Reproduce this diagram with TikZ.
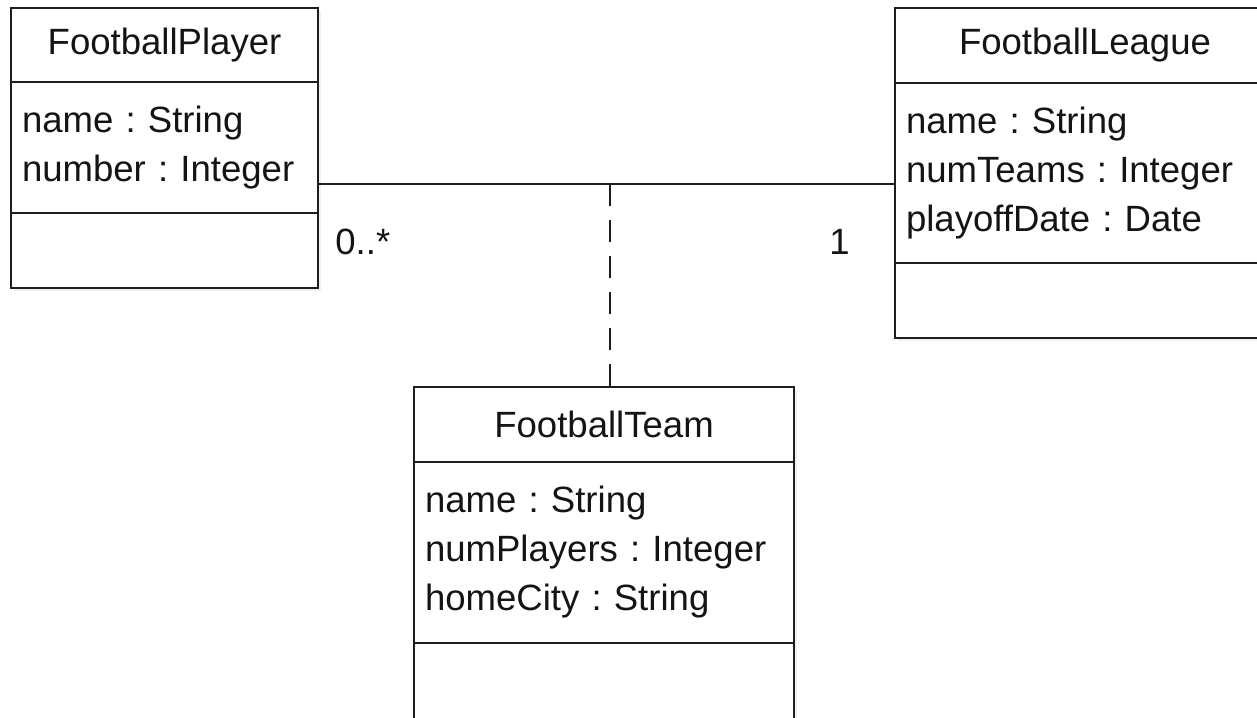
\documentclass[tikz,border=0pt]{standalone}
\usepackage{fontspec}
\setmainfont{Liberation Sans}
\usetikzlibrary{positioning,shadows}
\definecolor{umlLine}{RGB}{30,30,30}
\definecolor{umlText}{RGB}{20,20,20}
\tikzset{
    base/.style={font=\fontsize{20.8}{27.9}\selectfont\frenchspacing, text=umlText},
    section/.style={base, rectangle, draw=umlLine, line width=1.4pt, fill=white,
                    inner xsep=0.22cm, inner ysep=0pt, outer sep=0pt, anchor=north,
                    drop shadow={opacity=0.12, shadow xshift=0.06cm, shadow yshift=-0.06cm}},
    classname/.style={section, align=center},
    attrs/.style={section, align=left},
    assoc/.style={line width=1.3pt, color=umlLine},
    linkline/.style={assoc, dash pattern=on 0.44cm off 0.28cm},
    mult/.style={base, inner sep=0pt}
}
\begin{document}
\begin{tikzpicture}
  \useasboundingbox (0,0) rectangle (25.14,-14.34);

  % FootballPlayer
  \node[classname, text width=5.7cm, minimum height=1.48cm, anchor=north west] (playerName) at (0.22,-0.16) {FootballPlayer};
  \node[attrs, text width=5.7cm, minimum height=2.62cm, below=0pt of playerName] (playerAttr) {name : String\\ number : Integer};
  \node[attrs, text width=5.7cm, minimum height=1.5cm, below=0pt of playerAttr] (playerOps) {};

  % FootballLeague
  \node[classname, text width=7.16cm, minimum height=1.5cm, anchor=north west] (leagueName) at (17.9,-0.16) {FootballLeague};
  \node[attrs, text width=7.16cm, minimum height=3.6cm, below=0pt of leagueName] (leagueAttr) {name : String\\ numTeams : Integer\\ playoffDate : Date};
  \node[attrs, text width=7.16cm, minimum height=1.5cm, below=0pt of leagueAttr] (leagueOps) {};

  % FootballTeam
  \node[classname, text width=7.16cm, minimum height=1.5cm, anchor=north west] (teamName) at (8.28,-7.74) {FootballTeam};
  \node[attrs, text width=7.16cm, minimum height=3.62cm, below=0pt of teamName] (teamAttr) {name : String\\ numPlayers : Integer\\ homeCity : String};
  \node[attrs, text width=7.16cm, minimum height=1.6cm, below=0pt of teamAttr] (teamOps) {};

  % association and association class
  \coordinate (assocMid) at (12.2,-3.68);
  \draw[assoc] (playerAttr.east |- assocMid) -- (leagueAttr.west |- assocMid);
  \draw[linkline] (assocMid) -- (teamName.north -| assocMid);

  \node[mult, anchor=west] (multPlayer) at (6.7,-4.84) {0..*};
  \node[mult, anchor=east] (multLeague) at (17.0,-4.84) {1};
\end{tikzpicture}
\end{document}
